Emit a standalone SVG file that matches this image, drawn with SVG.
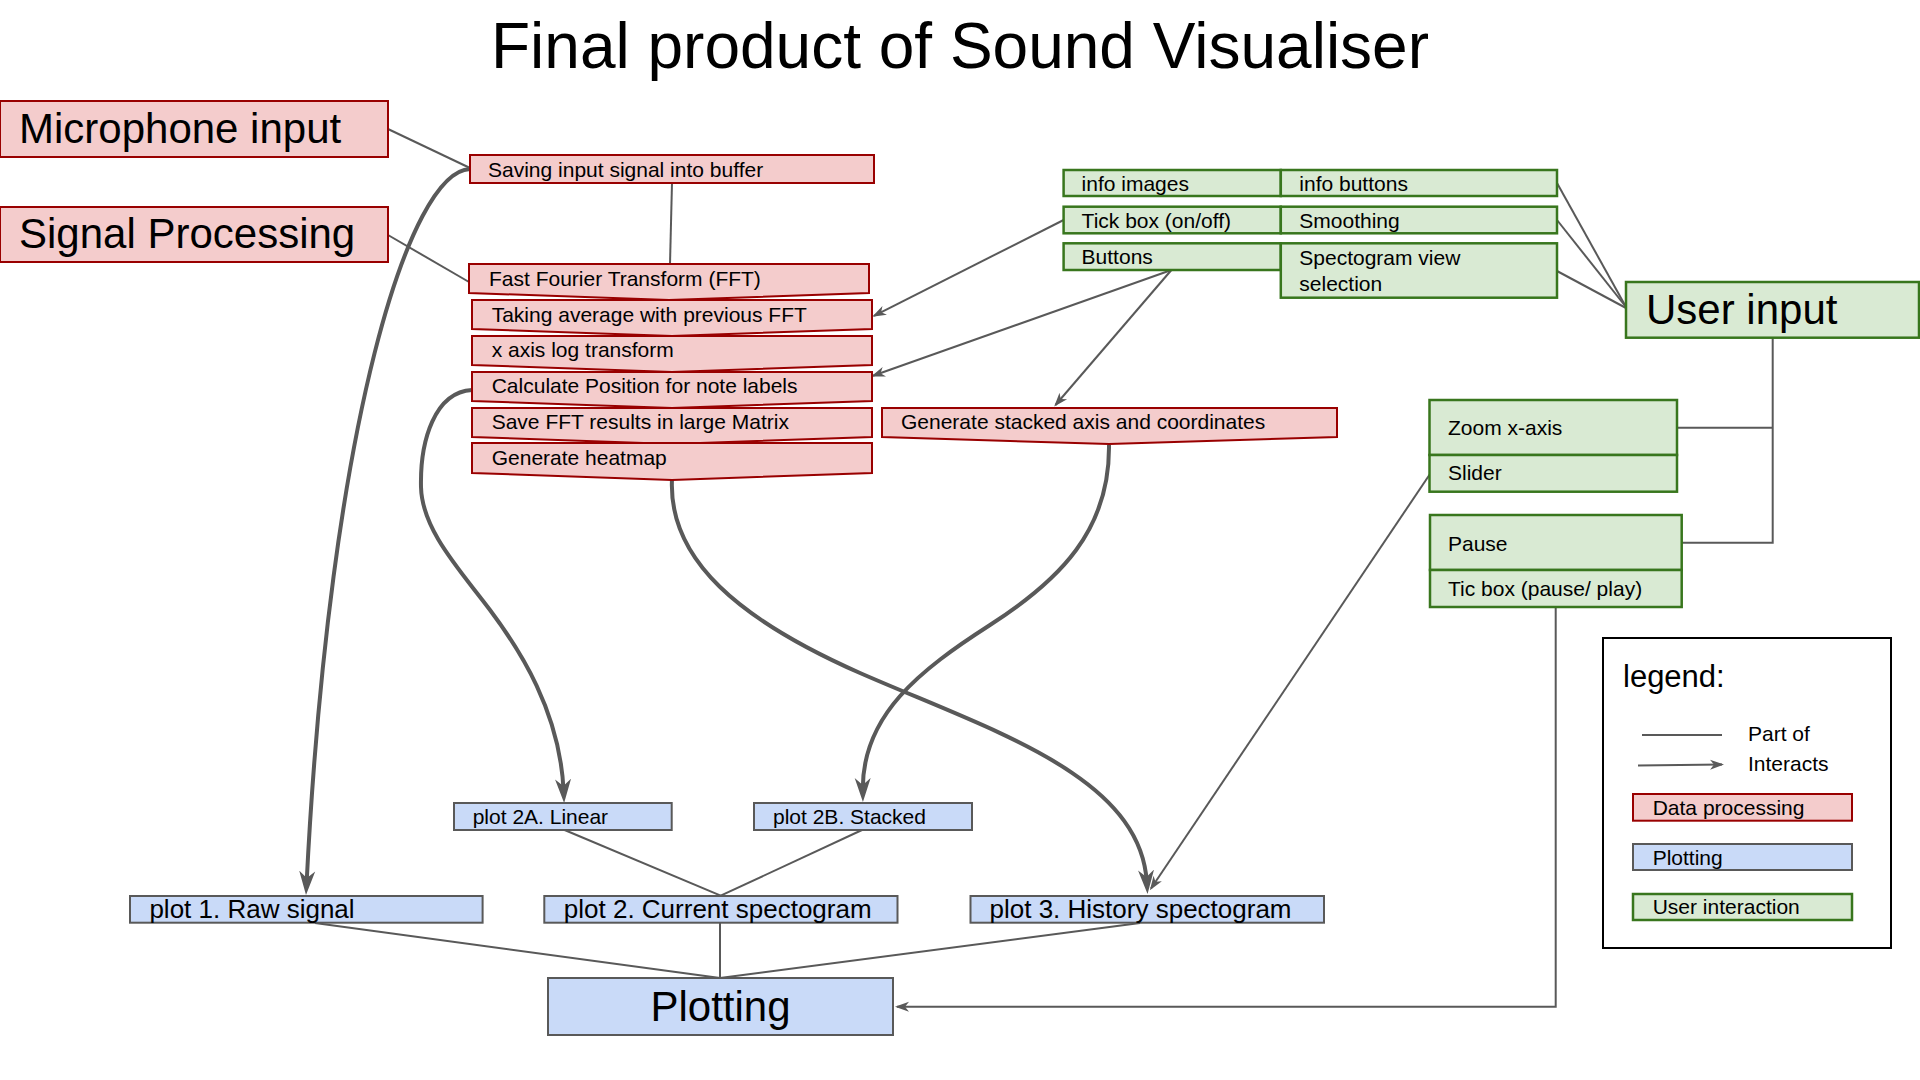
<svg xmlns="http://www.w3.org/2000/svg" width="1920" height="1080" viewBox="0 0 1920 1080">
<defs>
<style>
text{font-family:"Liberation Sans",Arial,sans-serif;fill:#000}
.red{fill:#f4cccc;stroke:#990000;stroke-width:2}
.grn{fill:#d9ead3;stroke:#38761d;stroke-width:2.5}
.blu{fill:#c9daf8;stroke:#595959;stroke-width:2}
.ln{fill:none;stroke:#595959;stroke-width:2}
.thick{fill:none;stroke:#595959;stroke-width:4}
.s21{font-size:21px}
.s26{font-size:26px}
.s42{font-size:42px}
</style>
<marker id="ahT" markerUnits="userSpaceOnUse" markerWidth="24" markerHeight="20" viewBox="0 0 24 20" refX="12" refY="10" orient="auto"><path d="M0,2 L24,10 L0,18 L7,10 Z" fill="#595959"/></marker>
<marker id="ah" markerUnits="userSpaceOnUse" markerWidth="14" markerHeight="12" viewBox="0 0 14 12" refX="12" refY="6" orient="auto"><path d="M0,1 L14,6 L0,11 L4,6 Z" fill="#595959"/></marker>
</defs>
<rect width="1920" height="1080" fill="#fff"/>
<text x="960" y="68" text-anchor="middle" style="font-size:64px">Final product of Sound Visualiser</text>

<g id="connectors">
<line class="ln" x1="388" y1="129" x2="470" y2="168"/>
<line class="ln" x1="388" y1="235" x2="469" y2="282"/>
<line class="ln" x1="672" y1="183" x2="670" y2="264"/>
<line class="ln" x1="1557" y1="183" x2="1626" y2="307"/>
<line class="ln" x1="1557" y1="220" x2="1626" y2="307"/>
<line class="ln" x1="1557" y1="271" x2="1626" y2="308"/>
<polyline class="ln" points="1772.7,338 1772.7,542.7 1681.7,542.7"/>
<line class="ln" x1="1677" y1="427.7" x2="1772.7" y2="427.7"/>
<line class="ln" x1="564.6" y1="830" x2="720.7" y2="895.7"/>
<line class="ln" x1="862" y1="830" x2="720.7" y2="895.7"/>
<line class="ln" x1="315" y1="923" x2="720" y2="978"/>
<line class="ln" x1="720" y1="923" x2="720" y2="978"/>
<line class="ln" x1="1140" y1="923" x2="720" y2="978"/>
<line class="ln" x1="1063.6" y1="220" x2="874" y2="315.8" marker-end="url(#ah)"/>
<line class="ln" x1="1171.4" y1="270" x2="873" y2="375.8" marker-end="url(#ah)"/>
<line class="ln" x1="1171.4" y1="270" x2="1055.5" y2="405" marker-end="url(#ah)"/>
<line class="ln" x1="1430" y1="474" x2="1151" y2="888.5" marker-end="url(#ah)"/>
<polyline class="ln" points="1555.7,607 1555.7,1006.7 897,1006.7" marker-end="url(#ah)"/>
<path class="thick" d="M470,169 C410,171 330,420 306.6,883" marker-end="url(#ahT)"/>
<path class="thick" d="M472,390 C435,392 420,440 421,487 C422,530 460,570 490,610 C520,650 560,712 563.6,791" marker-end="url(#ahT)"/>
<path class="thick" d="M1109,445 C1110,530 1060,580 990,625 C920,670 862,715 862.8,790" marker-end="url(#ahT)"/>
<path class="thick" d="M672,479 C668,560 740,620 860,673 C990,730 1140,775 1146.8,882" marker-end="url(#ahT)"/>
</g>

<g id="microphone-input"><rect class="red" x="0" y="101" width="388" height="56"/><text class="s42" x="19" y="143">Microphone input</text></g>
<g id="signal-processing"><rect class="red" x="0" y="207" width="388" height="55"/><text class="s42" x="19" y="248">Signal Processing</text></g>
<g id="saving-buffer"><rect class="red" x="470" y="155" width="404" height="28"/><text class="s21" x="488" y="177">Saving input signal into buffer</text></g>
<g id="fft"><polygon class="red" points="469,264 869,264 869,293 669,300 469,293"/><text class="s21" x="489" y="286">Fast Fourier Transform (FFT)</text></g>
<g id="average"><polygon class="red" points="472,300 872,300 872,329 672,336 472,329"/><text class="s21" x="491.7" y="321.7">Taking average with previous FFT</text></g>
<g id="log-transform"><polygon class="red" points="472,336 872,336 872,365 672,372 472,365"/><text class="s21" x="491.7" y="357.3">x axis log transform</text></g>
<g id="note-labels"><polygon class="red" points="472,372 872,372 872,401 672,408 472,401"/><text class="s21" x="491.7" y="393.3">Calculate Position for note labels</text></g>
<g id="save-matrix"><polygon class="red" points="472,408 872,408 872,437 672,444 472,437"/><text class="s21" x="491.7" y="429.3">Save FFT results in large Matrix</text></g>
<g id="heatmap"><polygon class="red" points="472,443 872,443 872,473 672,480 472,473"/><text class="s21" x="491.7" y="465">Generate heatmap</text></g>
<g id="stacked-axis"><polygon class="red" points="882,408 1337,408 1337,437 1109,444 882,437"/><text class="s21" x="901" y="429">Generate stacked axis and coordinates</text></g>

<g id="info-images"><rect class="grn" x="1063.6" y="170" width="217.2" height="26"/><text class="s21" x="1081.6" y="190.7">info images</text></g>
<g id="info-buttons"><rect class="grn" x="1280.8" y="170" width="276.2" height="26"/><text class="s21" x="1299.3" y="190.7">info buttons</text></g>
<g id="tick-box"><rect class="grn" x="1063.6" y="206.7" width="217.2" height="26.6"/><text class="s21" x="1081.6" y="228">Tick box (on/off)</text></g>
<g id="smoothing"><rect class="grn" x="1280.8" y="206.7" width="276.2" height="26.6"/><text class="s21" x="1299.3" y="228">Smoothing</text></g>
<g id="buttons"><rect class="grn" x="1063.6" y="243.3" width="217.2" height="26.7"/><text class="s21" x="1081.6" y="264">Buttons</text></g>
<g id="spectogram-view"><rect class="grn" x="1280.8" y="243.3" width="276.2" height="54.4"/><text class="s21" x="1299.3" y="265">Spectogram view</text><text class="s21" x="1299.3" y="290.7">selection</text></g>
<g id="user-input"><rect class="grn" x="1626" y="282" width="293" height="55.7"/><text class="s42" x="1646" y="324">User input</text></g>
<g id="zoom-x-axis"><rect class="grn" x="1429.5" y="400" width="247.5" height="55"/><text class="s21" x="1448" y="435">Zoom x-axis</text></g>
<g id="slider"><rect class="grn" x="1429.5" y="455" width="247.5" height="36.7"/><text class="s21" x="1448" y="480">Slider</text></g>
<g id="pause"><rect class="grn" x="1430" y="515" width="251.7" height="55"/><text class="s21" x="1448" y="550.7">Pause</text></g>
<g id="tic-box"><rect class="grn" x="1430" y="570" width="251.7" height="37"/><text class="s21" x="1448" y="596">Tic box (pause/ play)</text></g>

<g id="plot-2a"><rect class="blu" x="454" y="803" width="217.7" height="27"/><text class="s21" x="472.7" y="824">plot 2A. Linear</text></g>
<g id="plot-2b"><rect class="blu" x="754" y="803" width="218" height="27"/><text class="s21" x="773" y="824">plot 2B. Stacked</text></g>
<g id="plot-1"><rect class="blu" x="130" y="896" width="352.6" height="26.7"/><text class="s26" x="149.4" y="918.3">plot 1. Raw signal</text></g>
<g id="plot-2"><rect class="blu" x="544.3" y="896" width="353.2" height="26.7"/><text class="s26" x="563.8" y="918.3">plot 2. Current spectogram</text></g>
<g id="plot-3"><rect class="blu" x="970.5" y="896" width="353.5" height="26.7"/><text class="s26" x="989.5" y="918.3">plot 3. History spectogram</text></g>
<g id="plotting"><rect class="blu" x="548" y="978" width="345" height="57"/><text class="s42" x="720.5" y="1021" text-anchor="middle">Plotting</text></g>

<g id="legend">
<rect x="1603" y="638" width="288" height="310" fill="#fff" stroke="#000" stroke-width="2"/>
<text x="1623" y="687" style="font-size:31px">legend:</text>
<line class="ln" x1="1642" y1="735" x2="1722" y2="735"/>
<text class="s21" x="1748" y="741">Part of</text>
<line class="ln" x1="1638" y1="765.5" x2="1722" y2="764.5" marker-end="url(#ah)"/>
<text class="s21" x="1748" y="770.7">Interacts</text>
<rect class="red" x="1633" y="794" width="219" height="26.7"/>
<text class="s21" x="1652.7" y="815">Data processing</text>
<rect class="blu" x="1633" y="844" width="219" height="26"/>
<text class="s21" x="1652.7" y="865">Plotting</text>
<rect class="grn" x="1633" y="894" width="219" height="26"/>
<text class="s21" x="1652.7" y="914">User interaction</text>
</g>
</svg>
